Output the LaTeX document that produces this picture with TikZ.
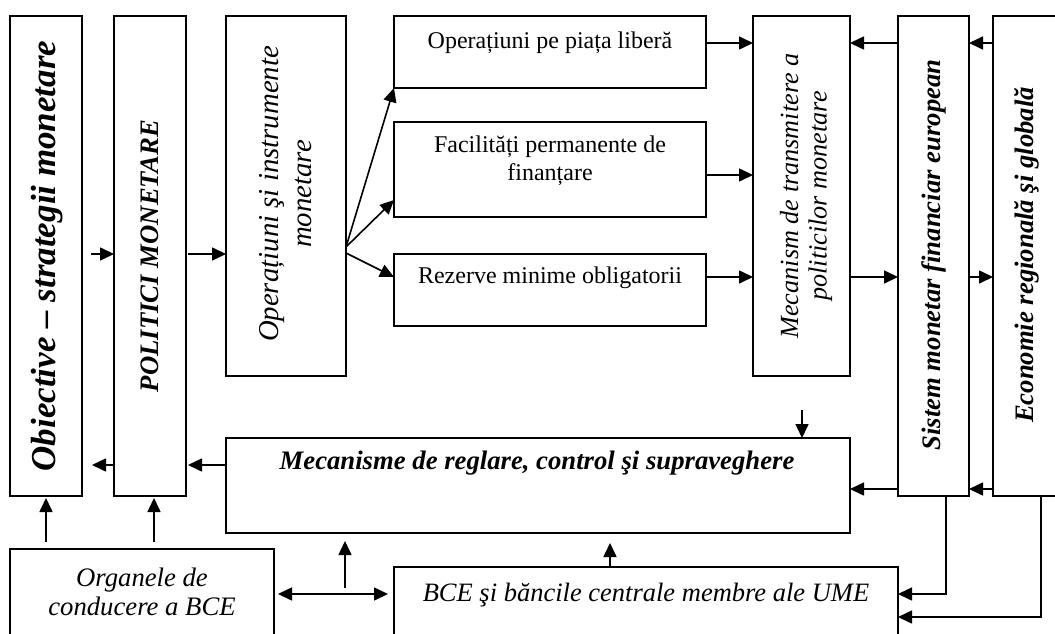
\documentclass[tikz,border=0pt]{standalone}
\usepackage{fontspec}
\setmainfont{Liberation Serif}
\usetikzlibrary{arrows.meta,calc}
\begin{document}
\begin{tikzpicture}[x=1pt,y=-1pt,
  box/.style={draw, line width=1.8pt, rectangle, inner sep=0pt, outer sep=0pt},
  arr/.style={line width=1.6pt, -{Triangle[length=14pt,width=13pt]}},
  arrboth/.style={line width=1.6pt, {Triangle[length=14pt,width=13pt]}-{Triangle[length=14pt,width=13pt]}},
  vbold/.style={rotate=90, align=center, font=\fontsize{26.7}{30}\selectfont\bfseries\itshape},
  vital/.style={rotate=90, align=center, font=\fontsize{26.7}{30}\selectfont\itshape},
  plain/.style={align=center, font=\fontsize{24}{28}\selectfont}]
\clip (0,0) rectangle (1055,634);

% boxes
\node[box, minimum width=72pt,  minimum height=480pt] (obj) at (46,256) {};
\node[box, minimum width=72pt,  minimum height=480pt] (pol) at (150,256) {};
\node[box, minimum width=120pt, minimum height=360pt] (opi) at (286,196) {};
\node[box, minimum width=312pt, minimum height=72pt]  (pl)  at (550,52) {};
\node[box, minimum width=312pt, minimum height=95pt]  (fac) at (550,169.5) {};
\node[box, minimum width=312pt, minimum height=72pt]  (rez) at (550,290) {};
\node[box, minimum width=97pt,  minimum height=360pt] (mt)  at (801.5,196) {};
\node[box, minimum width=71pt,  minimum height=480pt] (sis) at (933.5,256) {};
\node[box, minimum width=87pt,  minimum height=480pt] (eco) at (1036.5,256) {};
\node[box, minimum width=624pt, minimum height=95pt]  (mr)  at (538,485.5) {};
\node[box, minimum width=264pt, minimum height=111pt] (org) at (142,604.5) {};
\node[box, minimum width=504pt, minimum height=93pt]  (bce) at (646,613.5) {};

% texts
\node[vbold, font=\fontsize{35}{39}\selectfont\bfseries\itshape] (tobj) at (47,256) {Obiective – strategii monetare};
\node[vbold] (tpol) at (150,256) {POLITICI MONETARE};
\node[vital, font=\fontsize{28.8}{33}\selectfont\itshape] (topi) at (286,194) {Operațiuni şi instrumente\\monetare};
\node[plain] (tpl) at (550,43) {Operațiuni pe piața liberă};
\node[plain] (tfac) at (550,161) {Facilități permanente de\\finanțare};
\node[plain] (trez) at (550,278) {Rezerve minime obligatorii};
\node[vital, font=\fontsize{26.2}{28.5}\selectfont\itshape] (tmt) at (806,196) {Mecanism de transmitere a\\politicilor monetare};
\node[vbold] (tsis) at (934,255) {Sistem monetar financiar european};
\node[vbold] (teco) at (1027,255) {Economie regională şi globală};
\node[font=\fontsize{26.7}{30}\selectfont\bfseries\itshape] (tmr) at (537,463) {Mecanisme de reglare, control şi supraveghere};
\node[align=center, font=\fontsize{26.7}{29.5}\selectfont\itshape] (torg) at (142,592) {Organele de\\conducere a BCE};
\node[font=\fontsize{26.5}{30}\selectfont\itshape] (tbce) at (646,595) {BCE şi băncile centrale membre ale UME};

% upper chain
\draw[arr] ($(obj.east|-0,254)+(9,0)$) -- (pol.west|-0,254);
\draw[arr] ($(pol.east|-0,254)+(2,0)$) -- (opi.west|-0,254);
\draw[arr] (opi.east|-0,247) -- (pl.south west);
\draw[arr] (opi.east|-0,247) -- (fac.west|-0,200);
\draw[arr] (opi.east|-0,253) -- (rez.west|-0,277);
\draw[arr] (pl.east|-0,43) -- (mt.west|-0,43);
\draw[arr] (fac.east|-0,175) -- (mt.west|-0,175);
\draw[arr] (rez.east|-0,277) -- (mt.west|-0,277);
\draw[arr] (mt.east|-0,277) -- (sis.west|-0,277);
\draw[arr] (sis.east|-0,277) -- (eco.west|-0,277);
\draw[arr] (sis.west|-0,43) -- (mt.east|-0,43);
\draw[arr] (eco.west|-0,43) -- (sis.east|-0,43);

% feedback to the regulation box
\coordinate (drop) at (802,410);
\draw[arr] (drop) -- (drop|-mr.north);
\draw[arr] (sis.west|-0,489) -- (mr.east|-0,489);
\draw[arr] (eco.west|-0,489) -- (sis.east|-0,489);
\draw[arr] (mr.west|-0,465) -- ($(pol.east|-0,465)+(2,0)$);
\draw[arr] (pol.west|-0,465) -- ($(obj.east|-0,465)+(10,0)$);

% lower links
\draw[arr] ($(org.north-|46,0)+(0,-7)$) -- ($(obj.south-|46,0)+(0,2)$);
\draw[arr] ($(org.north-|154,0)+(0,-7)$) -- ($(pol.south-|154,0)+(0,2)$);
\draw[arrboth] ($(org.east|-0,594)+(4,0)$) -- ($(bce.west|-0,594)+(-6,0)$);
\coordinate (j) at (345,588);
\draw[arr] (j) -- ($(mr.south-|345,0)+(0,8)$);
\draw[arr] (bce.north-|610,0) -- ($(mr.south-|610,0)+(0,10)$);
\draw[arr] (sis.south-|946,0) |- (bce.east|-0,594);
\draw[arr] (eco.south-|1041,0) |- (bce.east|-0,617);
\end{tikzpicture}
\end{document}
